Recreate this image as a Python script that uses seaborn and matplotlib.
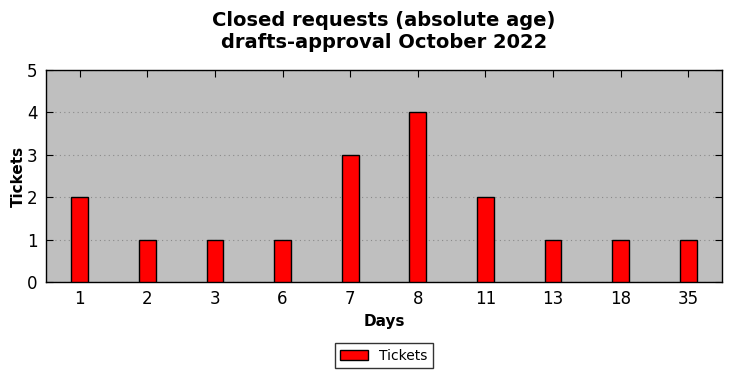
import matplotlib
matplotlib.use("Agg")
import matplotlib.pyplot as plt
import seaborn as sns
import pandas as pd

days = ["1", "2", "3", "6", "7", "8", "11", "13", "18", "35"]
tickets = [2, 1, 1, 1, 3, 4, 2, 1, 1, 1]

sns.set_style("ticks")
plt.rcParams['font.family'] = ['DejaVu Sans']
plt.rcParams.update({"text.color": "black", "axes.labelcolor": "black",
                     "xtick.color": "black", "ytick.color": "black"})

df = pd.DataFrame({"Days": days, "Tickets": tickets})

fig = plt.figure(figsize=(7.32, 3.78), dpi=100)
ax = fig.add_axes([46/732, 1 - 282/378, (722-46)/732, (282-70)/378])
ax.set_facecolor("#bfbfbf")
sns.barplot(data=df, x="Days", y="Tickets", order=days, color="red",
            edgecolor="black", linewidth=1, width=0.25, saturation=1,
            label="Tickets", ax=ax, zorder=3)
ax.set_xlim(-0.5, len(days) - 0.5)
ax.set_ylim(0, 5)
ax.set_yticks(range(6))
ax.yaxis.grid(True, linestyle=(0, (1, 3)), color="#8a8a8a", linewidth=0.8, zorder=0)
ax.set_axisbelow(True)
for s in ax.spines.values():
    s.set_visible(True)
    s.set_color("black")
    s.set_linewidth(1)
ax.tick_params(direction="in", top=True, right=True, labelsize=12, length=5, color="black", pad=6)
ax.set_xlabel("Days", fontsize=11, fontweight="bold")
ax.set_ylabel("Tickets", fontsize=11, fontweight="bold", labelpad=1)
ax.set_title("Closed requests (absolute age)\ndrafts-approval October 2022",
             fontsize=14, fontweight="bold", pad=16)
leg = ax.legend(loc="upper center", bbox_to_anchor=(0.5, -0.255), frameon=True,
                fancybox=False, edgecolor="black", fontsize=10)
leg.get_frame().set_linewidth(1)
fig.savefig("out.png", dpi=100)
